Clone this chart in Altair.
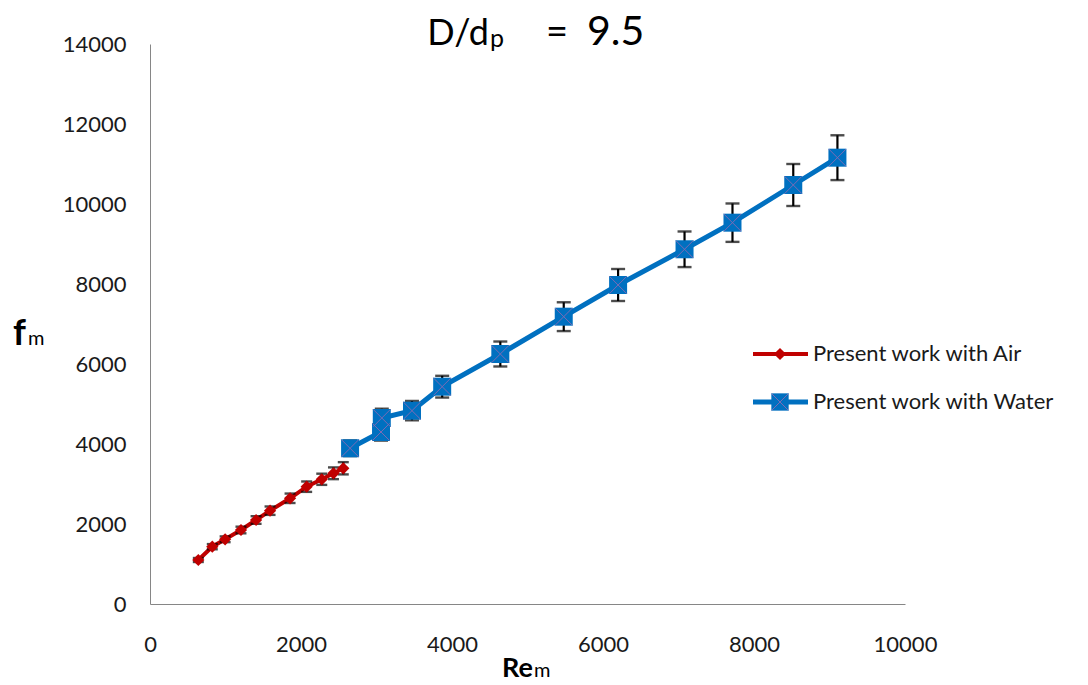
import altair as alt
import pandas as pd

# Air series: Reynolds number, friction factor, error half-width
air_re = [640, 825, 995, 1205, 1405, 1590, 1855, 2075, 2275, 2430, 2560]
air_f = [1100, 1433, 1618, 1850, 2100, 2333, 2643, 2933, 3118, 3268, 3393]
air_err = [50, 65, 72, 83, 95, 105, 118, 130, 140, 147, 153]

# Water series
water_re = [2650, 3060, 3070, 3470, 3870, 4640, 5480, 6200, 7080, 7715, 8520, 9105]
water_f = [3893, 4300, 4650, 4833, 5433, 6250, 7183, 7975, 8868, 9533, 10475, 11158]
water_err = [195, 215, 232, 242, 272, 312, 360, 400, 445, 480, 525, 560]

x_ticks = [0, 2000, 4000, 6000, 8000, 10000]
y_ticks = [0, 2000, 4000, 6000, 8000, 10000, 12000, 14000]

air_label = "Present work with Air"
water_label = "Present work with Water"

RED = "#C00000"
BLUE = "#0070C0"
CROSS = "#7B6BB5"
FONT = "Lato"

air = pd.DataFrame({"re": air_re, "f": air_f, "err": air_err})
air["lo"] = air["f"] - air["err"]
air["hi"] = air["f"] + air["err"]
water = pd.DataFrame({"re": water_re, "f": water_f, "err": water_err})
water["lo"] = water["f"] - water["err"]
water["hi"] = water["f"] + water["err"]

xs = alt.Scale(domain=[0, 10000], nice=False, zero=False)
ys = alt.Scale(domain=[0, 14000], nice=False)

x_axis = alt.Axis(values=x_ticks, title=None, ticks=False, grid=False, domainColor="#868686",
                  labelFont=FONT, labelFontSize=22, labelColor="#1a1a1a", labelPadding=30,
                  format="d", labelFlush=False)
y_axis = alt.Axis(values=y_ticks, title=None, ticks=False, grid=False, domainColor="#868686",
                  labelFont=FONT, labelFontSize=22, labelColor="#1a1a1a", labelPadding=24,
                  format="d")


def series_layers(df, color, width, cap):
    base = alt.Chart(df)
    line = base.mark_line(color=color, strokeWidth=width).encode(
        x=alt.X("re:Q", scale=xs, axis=x_axis),
        y=alt.Y("f:Q", scale=ys, axis=y_axis),
    )
    bar = base.mark_rule(color="black", strokeWidth=2.2).encode(
        x=alt.X("re:Q", scale=xs), y=alt.Y("lo:Q", scale=ys), y2="hi:Q"
    )
    cap_lo = base.mark_tick(color="black", thickness=2.4, size=cap, orient="horizontal").encode(
        x=alt.X("re:Q", scale=xs), y=alt.Y("lo:Q", scale=ys)
    )
    cap_hi = base.mark_tick(color="black", thickness=2.4, size=cap, orient="horizontal").encode(
        x=alt.X("re:Q", scale=xs), y=alt.Y("hi:Q", scale=ys)
    )
    return [line, bar, cap_lo, cap_hi]


air_markers = alt.Chart(air).mark_point(shape="diamond", filled=True, color=RED, size=150, opacity=1).encode(
    x=alt.X("re:Q", scale=xs), y=alt.Y("f:Q", scale=ys)
)
water_markers = alt.Chart(water).mark_point(shape="square", filled=True, color=BLUE, size=324, opacity=1).encode(
    x=alt.X("re:Q", scale=xs), y=alt.Y("f:Q", scale=ys)
)
water_cross = alt.Chart(water).mark_point(
    shape="M-1,-1L1,1M-1,1L1,-1", filled=False, color=CROSS, strokeWidth=1, size=300, opacity=1
).encode(x=alt.X("re:Q", scale=xs), y=alt.Y("f:Q", scale=ys))

# Legend, drawn by hand at the right of the plot
legend_df = pd.DataFrame({"label": [air_label, water_label]})
leg = alt.Chart(legend_df)
leg_air_line = leg.transform_filter(alt.datum.label == air_label).mark_rule(color=RED, strokeWidth=4).encode(
    x=alt.value(603), x2=alt.value(658), y=alt.value(310))
leg_air_pt = leg.transform_filter(alt.datum.label == air_label).mark_point(
    shape="diamond", filled=True, color=RED, size=150, opacity=1).encode(x=alt.value(630), y=alt.value(310))
leg_w_line = leg.transform_filter(alt.datum.label == water_label).mark_rule(color=BLUE, strokeWidth=5).encode(
    x=alt.value(603), x2=alt.value(658), y=alt.value(358))
leg_w_pt = leg.transform_filter(alt.datum.label == water_label).mark_point(
    shape="square", filled=True, color=BLUE, size=300, opacity=1).encode(x=alt.value(630), y=alt.value(358))
leg_w_cross = leg.transform_filter(alt.datum.label == water_label).mark_point(
    shape="M-1,-1L1,1M-1,1L1,-1", filled=False, color=CROSS, strokeWidth=1, size=280, opacity=1
).encode(x=alt.value(630), y=alt.value(358))
leg_text_air = leg.transform_filter(alt.datum.label == air_label).mark_text(
    align="left", baseline="middle", font=FONT, fontSize=22, color="#1a1a1a").encode(
    text="label:N", x=alt.value(663), y=alt.value(310))
leg_text_w = leg.transform_filter(alt.datum.label == water_label).mark_text(
    align="left", baseline="middle", font=FONT, fontSize=22, color="#1a1a1a").encode(
    text="label:N", x=alt.value(663), y=alt.value(358))


def label(txt, x, y, size, weight="normal", align="left"):
    return alt.Chart(pd.DataFrame({"t": [txt]})).mark_text(
        align=align, baseline="alphabetic", font=FONT, fontSize=size, fontWeight=weight, color="#000000"
    ).encode(text="t:N", x=alt.value(x), y=alt.value(y))


# Title D/d_p = 9.5 and axis titles with subscripts
title_parts = [
    label("D/d", 339, 1, 36, align="right"),
    label("p", 340, 3, 25),
    label("=", 396, 1, 38),
    label("9.5", 437, 1, 41),
]
axis_titles = [
    label("f", -137, 301, 36, "bold"),
    label("m", -122, 301, 20),
    label("Re", 352, 633, 27, "bold"),
    label("m", 384, 633, 20),
]

layers = (
    series_layers(air, RED, 4, 11)
    + series_layers(water, BLUE, 5, 14)
    + [air_markers, water_markers, water_cross]
    + [leg_air_line, leg_air_pt, leg_w_line, leg_w_pt, leg_w_cross, leg_text_air, leg_text_w]
    + title_parts
    + axis_titles
)

chart = alt.layer(*layers).properties(
    width=755,
    height=560,
    autosize=alt.AutoSizeParams(type="none"),
    padding={"left": 150, "top": 44, "right": 183, "bottom": 81},
    background="white",
).configure_view(stroke=None)

chart.save("out.html", embed_options={"renderer": "svg", "actions": False})
